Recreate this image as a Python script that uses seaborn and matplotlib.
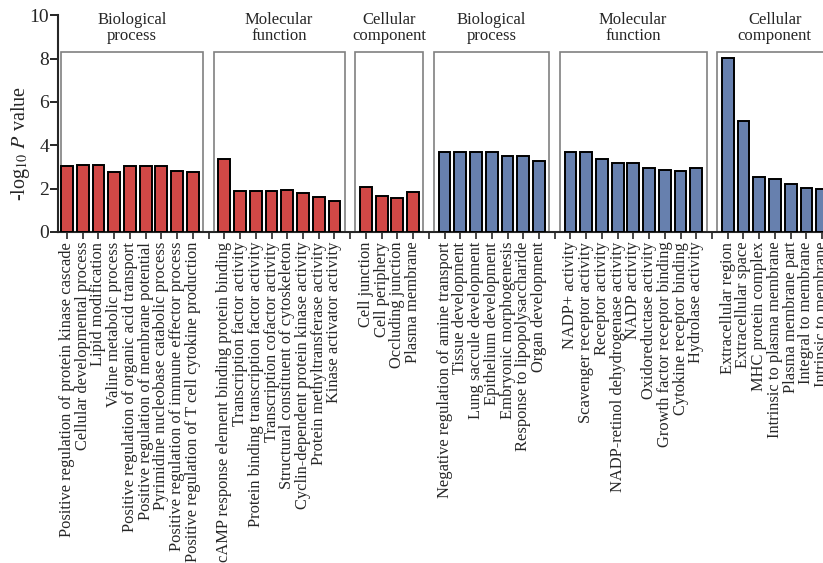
import numpy as np
import pandas as pd
import seaborn as sns
import matplotlib.pyplot as plt
from matplotlib.patches import Rectangle

# GO terms, first set (red) then second set (blue)
bp1_terms = ["Positive regulation of protein kinase cascade", "Cellular developmental process",
             "Lipid modification", "Valine metabolic process",
             "Positive regulation of organic acid transport", "Positive regulation of membrane potential",
             "Pyrimidine nucleobase catabolic process", "Positive regulation of immune effector process",
             "Positive regulation of T cell cytokine production"]
bp1_vals = [3.02, 3.08, 3.08, 2.75, 3.02, 3.02, 3.02, 2.81, 2.75]

mf1_terms = ["cAMP response element binding protein binding", "Transcription factor activity",
             "Protein binding transcription factor activity", "Transcription cofactor activity",
             "Structural constituent of cytoskeleton", "Cyclin-dependent protein kinase activity",
             "Protein methyltransferase activity", "Kinase activator activity"]
mf1_vals = [3.36, 1.87, 1.87, 1.87, 1.95, 1.80, 1.60, 1.44]

cc1_terms = ["Cell junction", "Cell periphery", "Occluding junction", "Plasma membrane"]
cc1_vals = [2.07, 1.64, 1.58, 1.86]

bp2_terms = ["Negative regulation of amine transport", "Tissue development", "Lung saccule development",
             "Epithelium development", "Embryonic morphogenesis", "Response to lipopolysaccharide",
             "Organ development"]
bp2_vals = [3.67, 3.67, 3.67, 3.67, 3.49, 3.49, 3.27]

mf2_terms = ["NADP+ activity", "Scavenger receptor activity", "Receptor activity",
             "NADP-retinol dehydrogenase activity", "NADP activity", "Oxidoreductase activity",
             "Growth factor receptor binding", "Cytokine receptor binding", "Hydrolase activity"]
mf2_vals = [3.67, 3.67, 3.36, 3.18, 3.18, 2.93, 2.87, 2.83, 2.93]

cc2_terms = ["Extracellular region", "Extracellular space", "MHC protein complex",
             "Intrinsic to plasma membrane", "Plasma membrane part", "Integral to membrane",
             "Intrinsic to membrane"]
cc2_vals = [8.02, 5.13, 2.53, 2.44, 2.21, 2.03, 1.98]

group_names = ["Biological\nprocess", "Molecular\nfunction", "Cellular\ncomponent"] * 2
groups = [(bp1_terms, bp1_vals, "a"), (mf1_terms, mf1_vals, "a"), (cc1_terms, cc1_vals, "a"),
          (bp2_terms, bp2_vals, "b"), (mf2_terms, mf2_vals, "b"), (cc2_terms, cc2_vals, "b")]

rows = []
ticklabels = []
spans = []
pos = 0
for terms, vals, s in groups:
    if pos > 0:
        ticklabels.append("")  # empty slot between groups
        pos += 1
    start = pos
    for t, v in zip(terms, vals):
        rows.append({"pos": pos, "value": v, "set": s})
        ticklabels.append(t)
        pos += 1
    spans.append((start, pos - 1))
df = pd.DataFrame(rows)

sns.set_style("ticks")
plt.rcParams['font.family'] = 'serif'
plt.rcParams['font.serif'] = ['Liberation Serif', 'DejaVu Serif']
plt.rcParams['mathtext.fontset'] = 'stix'

fig = plt.figure(figsize=(8.23, 5.63), dpi=100)
ax = fig.add_axes([0.0705, 0.588, 0.93, 0.385])

sns.barplot(data=df, x="pos", y="value", hue="set", native_scale=True, dodge=False,
            palette={"a": "#e8322f", "b": "#5b7dba"}, width=0.75,
            edgecolor="black", linewidth=1.4, legend=False, ax=ax, zorder=3)

# group boxes with labels
for (a, b), name in zip(spans, group_names):
    left = max(a - 0.68, -0.38)
    right = b + 0.65
    ax.add_patch(Rectangle((left, 0), right - left, 8.3, fill=False, edgecolor="#808080",
                           linewidth=1.2, zorder=1, clip_on=False))
    ax.text((left + right) / 2, 9.4, name, ha="center", va="center", fontsize=12,
            linespacing=1.0, clip_on=False)

ax.set_xticks(range(len(ticklabels)))
ax.set_xticklabels(ticklabels, rotation=90, fontsize=11.9)
ax.set_xlim(-0.57, 48.08)
ax.set_ylim(0, 10)
ax.set_yticks(range(0, 11, 2))
ax.tick_params(axis="y", labelsize=14, length=6, width=1.4, pad=0.5)
ax.tick_params(axis="x", length=5, width=1.2, pad=2)
ax.set_xlabel("")
ax.set_ylabel("-log$_{10}$ $P$ value", fontsize=14.5)
ax.yaxis.set_label_coords(-0.034, 0.41)
for sp in ["left", "bottom"]:
    ax.spines[sp].set_linewidth(1.5)
sns.despine(ax=ax)

fig.savefig("out.png", dpi=100)
